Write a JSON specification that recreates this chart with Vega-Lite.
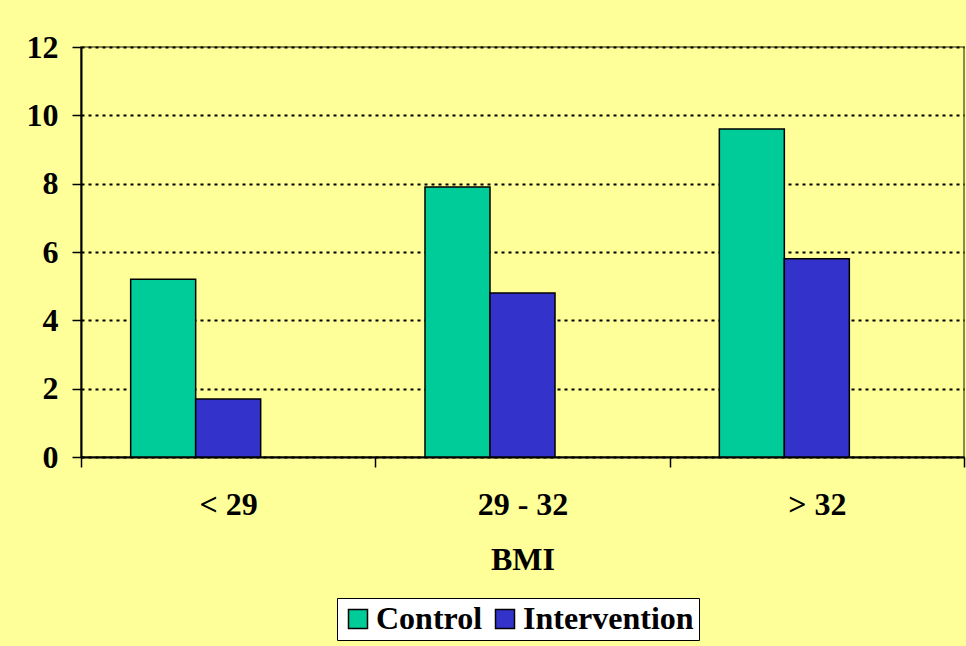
{
  "$schema": "https://vega.github.io/schema/vega-lite/v6.json",
  "autosize": {"type": "none"},
  "width": 883,
  "height": 410,
  "padding": {"left": 81, "top": 47, "right": 2, "bottom": 189},
  "background": "#FFFF99",
  "data": {
    "values": [
      {"bmi": "< 29", "group": "Control", "value": 5.2},
      {"bmi": "< 29", "group": "Intervention", "value": 1.7},
      {"bmi": "29 - 32", "group": "Control", "value": 7.9},
      {"bmi": "29 - 32", "group": "Intervention", "value": 4.8},
      {"bmi": "> 32", "group": "Control", "value": 9.6},
      {"bmi": "> 32", "group": "Intervention", "value": 5.8}
    ]
  },
  "config": {
    "view": {"stroke": "#666633", "strokeWidth": 1.5, "fill": "#FFFF99"},
    "font": "Liberation Serif"
  },
  "mark": {"type": "bar", "stroke": "#000000", "strokeWidth": 1.5},
  "encoding": {
    "x": {
      "field": "bmi",
      "type": "nominal",
      "sort": ["< 29", "29 - 32", "> 32"],
      "scale": {"paddingInner": 0, "paddingOuter": 0},
      "axis": {
        "title": "BMI",
        "labelAngle": 0,
        "tickBand": "extent",
        "domainColor": "#000000",
        "domainWidth": 2,
        "tickColor": "#000000",
        "tickWidth": 1.5,
        "tickSize": 10,
        "labelPadding": 22,
        "labelFont": "Liberation Serif",
        "labelFontWeight": "bold",
        "labelFontSize": 32,
        "labelColor": "#000000",
        "titleFont": "Liberation Serif",
        "titleFontWeight": "bold",
        "titleFontSize": 32,
        "titleColor": "#000000",
        "titleBaseline": "alphabetic",
        "titleY": 112
      }
    },
    "xOffset": {
      "field": "group",
      "type": "nominal",
      "scale": {"domain": ["Control", "Intervention", "blank"], "paddingInner": 0, "paddingOuter": 0.764}
    },
    "y": {
      "field": "value",
      "type": "quantitative",
      "scale": {"domain": [0, 12], "nice": false},
      "axis": {
        "title": null,
        "values": [0, 2, 4, 6, 8, 10, 12],
        "domainColor": "#000000",
        "domainWidth": 2,
        "tickColor": "#000000",
        "tickWidth": 1.5,
        "tickSize": 9,
        "labelPadding": 14,
        "labelFont": "Liberation Serif",
        "labelFontWeight": "bold",
        "labelFontSize": 32,
        "labelColor": "#000000",
        "grid": true,
        "gridColor": "#000000",
        "gridWidth": 2,
        "gridDash": [3, 4]
      }
    },
    "color": {
      "field": "group",
      "type": "nominal",
      "scale": {"domain": ["Control", "Intervention"], "range": ["#00CC99", "#3333CC"]},
      "legend": {
        "title": null,
        "orient": "none",
        "direction": "horizontal",
        "legendX": 256,
        "legendY": 551,
        "fillColor": "#FFFFFF",
        "strokeColor": "#000000",
        "padding": 5,
        "symbolType": "square",
        "symbolSize": 361,
        "symbolStrokeColor": "#000000",
        "symbolStrokeWidth": 1.5,
        "symbolOpacity": 1,
        "labelFont": "Liberation Serif",
        "labelFontWeight": "bold",
        "labelFontSize": 32,
        "labelColor": "#000000",
        "labelLimit": 0,
        "labelOffset": 2,
        "columnPadding": 6
      }
    }
  }
}
